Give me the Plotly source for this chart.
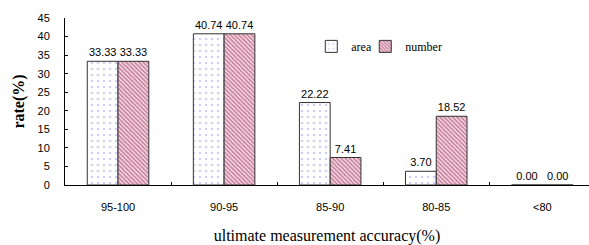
import plotly.graph_objects as go

categories = ["95-100", "90-95", "85-90", "80-85", "<80"]
area = [33.33, 40.74, 22.22, 3.70, 0.00]
number = [33.33, 40.74, 7.41, 18.52, 0.00]
y_ticks = [0, 5, 10, 15, 20, 25, 30, 35, 40, 45]

fig = go.Figure()
fig.add_trace(go.Bar(
    x=categories, y=area, name="area", legend="legend",
    text=[f"{v:.2f}" for v in area], textposition="outside", cliponaxis=False,
    textfont=dict(family="Liberation Sans", size=11, color="black"),
    marker=dict(color="white", line=dict(color="#333333", width=1),
                pattern=dict(shape=".", fgcolor="#9f9fef", bgcolor="white", size=6, solidity=0.15)),
))
fig.add_trace(go.Bar(
    x=categories, y=number, name="number", legend="legend2",
    text=[f"{v:.2f}" for v in number], textposition="outside", cliponaxis=False,
    textfont=dict(family="Liberation Sans", size=11, color="black"),
    marker=dict(color="white", line=dict(color="#333333", width=1),
                pattern=dict(shape="\\", fgcolor="#a01048", bgcolor="white", size=3, solidity=0.7)),
))

legend_style = dict(orientation="h", y=0.83, xanchor="left", yanchor="middle",
                    font=dict(family="Liberation Serif", size=12, color="black"),
                    itemwidth=30, bgcolor="rgba(0,0,0,0)")

fig.update_layout(
    width=589, height=245,
    margin=dict(l=65, r=0, t=18, b=60),
    paper_bgcolor="white", plot_bgcolor="white",
    barmode="group", bargap=0.42, bargroupgap=0,
    showlegend=True,
    legend=dict(x=0.47, **legend_style),
    legend2=dict(x=0.573, **legend_style),
    font=dict(family="Liberation Sans", size=11, color="black"),
    xaxis=dict(
        range=[-0.5, 4.44], showline=True, linecolor="black", linewidth=1,
        ticks="inside", tickson="boundaries", ticklen=3, tickcolor="black",
        showgrid=False, zeroline=False, automargin=False, ticklabelstandoff=12,
        tickfont=dict(family="Liberation Sans", size=11, color="black"),
        title=dict(text="ultimate measurement accuracy(%)", standoff=18,
                   font=dict(family="Liberation Serif", size=16, color="black")),
    ),
    yaxis=dict(
        range=[0, 45], tickvals=y_ticks, showline=True, linecolor="black", linewidth=1,
        ticks="inside", ticklen=3, tickcolor="black", showgrid=False, zeroline=False,
        automargin=False, ticklabelstandoff=12,
        tickfont=dict(family="Liberation Sans", size=11, color="black"),
        title=dict(text="<b>rate(%)</b>", standoff=8,
                   font=dict(family="Liberation Serif", size=16, color="black")),
    ),
)

fig.write_html("out.html", config={"displayModeBar": False},
               post_script="document.body.style.margin='0';document.body.style.overflow='hidden';")
